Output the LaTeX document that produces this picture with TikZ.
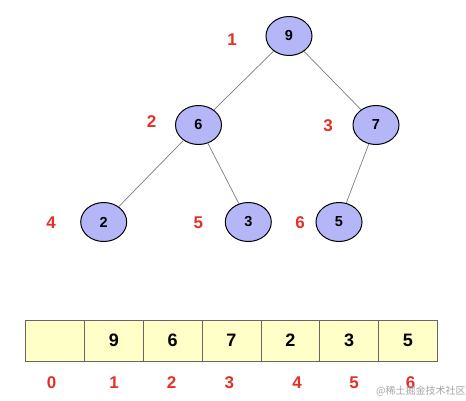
\documentclass[tikz,border=0pt]{standalone}
\usepackage{fontspec}
\setmainfont{Liberation Sans}
\newfontfamily\cjk{Noto Sans CJK SC}
\definecolor{nodefill}{RGB}{180,182,248}
\definecolor{cellfill}{RGB}{255,255,200}
\definecolor{lblred}{RGB}{228,48,38}
\definecolor{edgegray}{RGB}{125,125,125}
\begin{document}
\begin{tikzpicture}[x=1pt,y=-1pt,
  heapnode/.style={ellipse,draw=black,line width=1pt,fill=nodefill,minimum width=46pt,minimum height=39pt,inner sep=0pt,font=\fontsize{14.5}{14.5}\selectfont\bfseries},
  idx/.style={text=lblred,font=\fontsize{17}{17}\selectfont\bfseries,inner sep=0pt},
  cell/.style={rectangle,draw=black!60,line width=0.8pt,fill=cellfill,minimum width=58.8pt,minimum height=41pt,inner sep=0pt,font=\fontsize{18}{18}\selectfont\bfseries},
  edge/.style={draw=edgegray,line width=0.7pt}]
\usetikzlibrary{shapes.geometric}
\useasboundingbox (0,0) rectangle (466,400);
\fill[white] (0,0) rectangle (466,400);
% tree nodes
\node[heapnode] (n9) at (289,36) {9};
\node[heapnode] (n6) at (198.5,125) {6};
\node[heapnode] (n7) at (376,125) {7};
\node[heapnode] (n2) at (103.7,222) {2};
\node[heapnode] (n3) at (248.3,222) {3};
\node[heapnode] (n5) at (339,222) {5};
\draw[edge] (n9) -- (n6);
\draw[edge] (n9) -- (n7);
\draw[edge] (n6) -- (n2);
\draw[edge] (n6) -- (n3);
\draw[edge] (n7) -- (n5);
% tree index labels
\node[idx] (t1) at (232,40) {1};
\node[idx] (t2) at (151.7,122) {2};
\node[idx] (t3) at (328,126) {3};
\node[idx] (t4) at (51,223) {4};
\node[idx] (t5) at (198.3,223) {5};
\node[idx] (t6) at (300,223) {6};
% array
\node[cell] (c0) at (55.1,340.5) {};
\node[cell] (c1) at (113.9,340.5) {9};
\node[cell] (c2) at (172.7,340.5) {6};
\node[cell] (c3) at (231.5,340.5) {7};
\node[cell] (c4) at (290.3,340.5) {2};
\node[cell] (c5) at (349.1,340.5) {3};
\node[cell] (c6) at (407.9,340.5) {5};
% array index labels
\node[idx] (a0) at (51.7,383) {0};
\node[idx] (a1) at (114,383) {1};
\node[idx] (a2) at (171.7,383) {2};
\node[idx] (a3) at (229.3,383) {3};
\node[idx] (a4) at (297,383) {4};
\node[idx] (a5) at (354,383) {5};
\node[idx] (a6) at (410.7,383) {6};
% watermark
\node[anchor=west,inner sep=0pt,text=black!35,font=\cjk\fontsize{10}{10}\selectfont] (wm) at (376,391) {@稀土掘金技术社区};
\end{tikzpicture}
\end{document}
